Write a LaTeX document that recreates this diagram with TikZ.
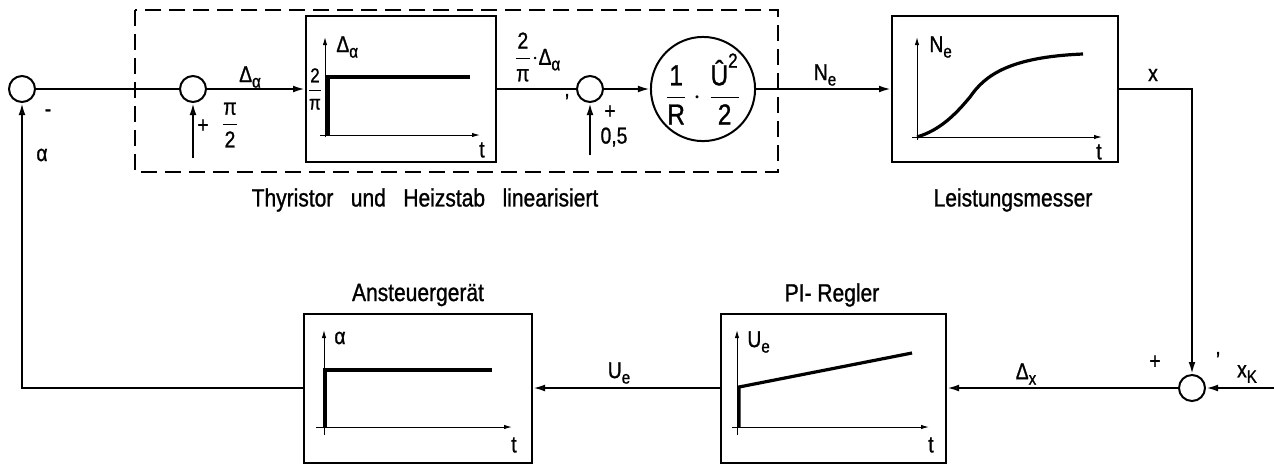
\documentclass[tikz,border=0pt]{standalone}
\usepackage{amsmath}
\usepackage{fontspec}
\setmainfont{Liberation Sans}[FakeStretch=0.84,FakeBold=1]
\usepackage{tikz}
\usetikzlibrary{arrows.meta,calc}
\newcommand{\lowsub}[1]{\raisebox{-0.45ex}{\fontsize{9}{10}\selectfont #1}}
\tikzset{
  rgbox/.style={draw=black, line width=1pt, fill=white, inner sep=0pt},
  rgsum/.style={draw=black, circle, line width=1pt, fill=white, inner sep=0pt, minimum size=13pt},
  rggain/.style={draw=black, circle, line width=1pt, fill=white, inner sep=0pt, minimum size=47pt, font=\fontsize{14.5}{16}\selectfont},
  rgline/.style={line width=1pt},
  rgarrow/.style={-{Latex[length=6pt,width=3.4pt,fill=gray!55]}, line width=1pt},
  rgaxis/.style={-{Latex[length=4pt,width=2.2pt]}, line width=0.5pt},
  rgstep/.style={line width=1.6pt},
  rglabel/.style={font=\fontsize{11.5}{13}\selectfont, inner sep=1pt},
  rgcaption/.style={font=\fontsize{12.5}{15}\selectfont, inner sep=1pt}
}

\begin{document}
\begin{tikzpicture}[x=0.5pt,y=-0.5pt]
  \useasboundingbox (0,0) rectangle (1274,463);
  \draw[line width=1pt, dash pattern=on 8pt off 4pt] (135,10) rectangle (778,172);

  \node[rgsum] (sumA) at (22,89) {};
  \node[rgsum] (sumB) at (193,89) {};
  \node[rgbox, minimum width=95pt, minimum height=73pt] (thyr) at (401,89) {};
  \node[rgsum] (sumC) at (590,89) {};
  \node[rggain] (gain) at (703,89) {$\dfrac{\text{1}}{\text{R}}\cdot\dfrac{\text{Û}^{\text{2}}}{\text{2}}$};
  \node[rgbox, minimum width=113pt, minimum height=73pt] (meter) at (1005,89) {};
  \node[rgbox, minimum width=114pt, minimum height=74.5pt] (ctl) at (418,388) {};
  \node[rgbox, minimum width=112.5pt, minimum height=74.5pt] (pireg) at (833.5,388) {};
  \node[rgsum] (sumD) at (1192,388) {};

  \coordinate (inPi) at (193,158);
  \coordinate (inHalf) at (590,155);
  \coordinate (inK) at (1274,388);

  \draw[rgline] (sumA) -- (sumB);
  \draw[rgarrow] (sumB) -- (thyr);
  \draw[rgline] (thyr) -- (sumC);
  \draw[rgarrow] (sumC) -- (gain);
  \draw[rgarrow] (gain) -- (meter);
  \draw[rgarrow] (meter.east) -| (sumD.north);
  \draw[rgarrow] (inK) -- (sumD);
  \draw[rgarrow] (sumD) -- (pireg);
  \draw[rgarrow] (pireg) -- (ctl);
  \draw[rgarrow] (ctl.west) -| (sumA.south);
  \draw[rgarrow] (inPi) -- (sumB);
  \draw[rgarrow] (inHalf) -- (sumC);

  \draw[rgaxis] (320,135) -- (480,135);
  \draw[rgaxis] (325,137) -- (325,37);
  \draw[rgstep] (328,135) -- (328,77) -- (470,77);
  \node[rglabel] (tThyr) at (482,150) {t};
  \node[rglabel, anchor=west] (yThyr) at (334,47) {Δ\lowsub{α}};
  \node[rglabel, font=\fontsize{10}{11}\selectfont, inner sep=0pt] (kThyr) at (315,89) {$\dfrac{\text{2}}{\text{π}}$};

  \draw[rgaxis] (912,137) -- (1102,137);
  \draw[rgaxis] (917,140) -- (917,37);
  \draw[rgstep] (917,137) .. controls (940,130) and (955,115) .. (970,97) .. controls (985,75) and (1010,57) .. (1083,54);
  \node[rglabel] (tMeter) at (1099,152) {t};
  \node[rglabel, anchor=west] (yMeter) at (927,47) {N\lowsub{e}};

  \draw[rgaxis] (316,427) -- (512,427);
  \draw[rgaxis] (324,435) -- (324,330);
  \draw[rgstep] (325,427) -- (325,370) -- (492,370);
  \node[rglabel] (tCtl) at (514,445) {t};
  \node[rglabel, anchor=west] (yCtl) at (332,338) {α};

  \draw[rgaxis] (732,427) -- (929,427);
  \draw[rgaxis] (737,435) -- (737,330);
  \draw[rgstep] (739,427) -- (739,387) -- (912,353);
  \node[rglabel] (tPi) at (931,445) {t};
  \node[rglabel, anchor=west] (yPi) at (745,342) {U\lowsub{e}};

  \node[rglabel] (lMinus) at (48,113) {-};
  \node[rglabel] (lAlpha) at (42,155) {α};
  \node[rglabel] (lDa) at (250,77) {Δ\lowsub{α}};
  \node[rglabel] (lPlusB) at (203,126) {+};
  \node[rglabel] (lPi) at (230,125) {$\dfrac{\text{π}}{\text{2}}$};
  \node[rglabel] (lScaled) at (537,57) {$\dfrac{\text{2}}{\text{π}}\cdot$Δ\lowsub{α}};
  \node[rglabel] (lTickC) at (567,102) {'};
  \node[rglabel] (lPlusC) at (610,112) {+};
  \node[rglabel] (lHalf) at (614,137) {0,5};
  \node[rglabel] (lNe) at (825,75) {N\lowsub{e}};
  \node[rglabel] (lX) at (1153,75) {x};
  \node[rglabel] (lPlusD) at (1155,362) {+};
  \node[rglabel] (lTickD) at (1218,360) {'};
  \node[rglabel] (lK) at (1247,374) {x\lowsub{K}};
  \node[rglabel] (lDx) at (1026,374) {Δ\lowsub{x}};
  \node[rglabel] (lUe) at (619,373) {U\lowsub{e}};

  \node[rgcaption] (capThyr) at (425,200) {Thyristor\hspace{0.7em}und\hspace{0.7em}Heizstab\hspace{0.7em}linearisiert};
  \node[rgcaption] (capMeter) at (1013,200) {Leistungsmesser};
  \node[rgcaption] (capCtl) at (418,295) {Ansteuergerät};
  \node[rgcaption] (capPi) at (832,295) {PI- Regler};
\end{tikzpicture}
\end{document}
